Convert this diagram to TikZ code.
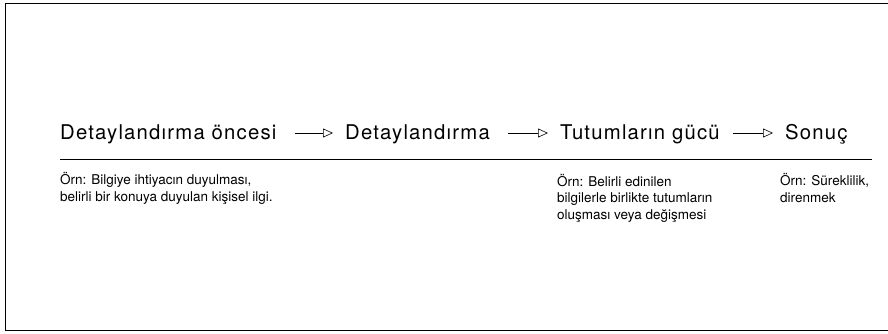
\documentclass[tikz,border=0pt]{standalone}
\usepackage{fontspec}
\setmainfont{TeX Gyre Heros}
\newfontfamily\stagefont[LetterSpace=6]{TeX Gyre Heros}
\usetikzlibrary{arrows.meta,positioning}

\begin{document}
\begin{tikzpicture}[x=1pt,y=-1pt,
    stage/.style={anchor=base west,inner sep=0pt,font=\stagefont\fontsize{20.3}{23}\selectfont},
    note/.style={anchor=base west,inner sep=0pt,align=left,font=\fontsize{13.5}{16.5}\selectfont},
    flow/.style={-{Triangle[open,length=10pt,width=9pt]},line width=0.6pt}]
        \useasboundingbox (0,0) rectangle (888,333);
        \draw[line width=1pt] (888,3) -- (5,3) -- (5,330) -- (888,330);

        \node[stage] (pre) at (60,139) {Detaylandırma öncesi};
        \node[stage] (det) at (345,139) {Detaylandırma};
        \node[stage] (tut) at (560,139) {Tutumların gücü};
        \node[stage] (son) at (785,139) {Sonuç};

        \draw[flow] ([xshift=18pt,yshift=6pt]pre.base east) -- ([xshift=-12pt,yshift=6pt]det.base west);
        \draw[flow] ([xshift=18pt,yshift=6pt]det.base east) -- ([xshift=-12pt,yshift=6pt]tut.base west);
        \draw[flow] ([xshift=13pt,yshift=6pt]tut.base east) -- ([xshift=-12pt,yshift=6pt]son.base west);

        \coordinate (rulestart) at (60,159);
        \coordinate (ruleend) at (872,159);
        \draw[line width=0.8pt] (rulestart) -- (ruleend);

        % base of a note is the baseline of its last line
        \node[note] (prenote) at (60,201) {Örn: Bilgiye ihtiyacın duyulması,\\belirli bir konuya duyulan kişisel ilgi.};
        \node[note] (tutnote) at (557,219) {Örn: Belirli edinilen\\bilgilerle birlikte tutumların\\oluşması veya değişmesi};
        \node[note] (sonnote) at (780,202) {Örn: Süreklilik,\\direnmek};
\end{tikzpicture}
\end{document}
